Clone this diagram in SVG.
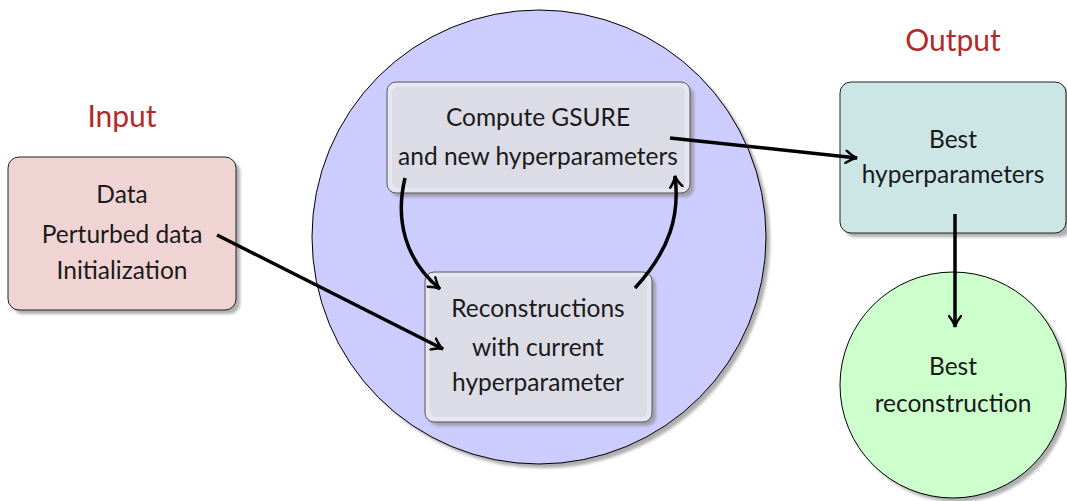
<svg xmlns="http://www.w3.org/2000/svg" width="1067" height="501" viewBox="0 0 1067 501">
<defs>
<style>
text{font-family:Lato,"Open Sans","Liberation Sans",sans-serif;font-size:24.5px;fill:#1a1a1a;text-anchor:middle}
.lbl{fill:#b22a2a;font-size:30px}
.sh{fill:#8c8c8c;opacity:0.7}
.edge{fill:none;stroke:#000;stroke-width:3.5}
</style>
<filter id="blur" x="-10%" y="-10%" width="120%" height="120%"><feGaussianBlur stdDeviation="1.5"/></filter>
<marker id="arr" viewBox="0 0 12 12" refX="10" refY="6" markerWidth="4.2" markerHeight="4.2" orient="auto" markerUnits="strokeWidth">
<path d="M1,1 Q6,5 10,6 Q6,7 1,11" fill="none" stroke="#000" stroke-width="2" stroke-linecap="round"/>
</marker>
</defs>
<rect width="1067" height="501" fill="#fff"/>
<g id="big-circle">
<circle cx="543" cy="241" r="227" class="sh" filter="url(#blur)"/>
<circle cx="539" cy="237" r="227" fill="#ccccff" stroke="#000" stroke-width="1"/>
</g>
<g id="label-input"><text class="lbl" x="122" y="127">Input</text></g>
<g id="label-output"><text class="lbl" x="953" y="51">Output</text></g>
<g id="input">
<rect x="12" y="161" width="228" height="153" rx="11" class="sh" filter="url(#blur)"/>
<rect x="8" y="157" width="228" height="153" rx="11" fill="#f0d4d4" stroke="#222" stroke-width="1"/>
<text x="122" y="203">Data</text>
<text x="122" y="243">Perturbed data</text>
<text x="122" y="279">Initialization</text>
</g>
<g id="compute">
<rect x="391" y="86" width="303" height="111" rx="9" class="sh" filter="url(#blur)"/>
<rect x="387" y="82" width="303" height="111" rx="9" fill="#e6e6f2" stroke="#555" stroke-width="1"/>
<rect x="392" y="87" width="293" height="101" rx="6" fill="#dcdce6"/>
<text x="538" y="126">Compute GSURE</text>
<text x="538" y="165">and new hyperparameters</text>
</g>
<g id="recon">
<rect x="429" y="276" width="227" height="150" rx="9" class="sh" filter="url(#blur)"/>
<rect x="425" y="272" width="227" height="150" rx="9" fill="#e6e6f2" stroke="#555" stroke-width="1"/>
<rect x="430" y="277" width="217" height="140" rx="6" fill="#dcdce6"/>
<text x="538" y="317">Reconstructions</text>
<text x="538" y="356">with current</text>
<text x="538" y="391">hyperparameter</text>
</g>
<g id="best-hyper">
<rect x="844" y="86" width="227" height="151" rx="11" class="sh" filter="url(#blur)"/>
<rect x="840" y="82" width="226" height="151" rx="11" fill="#cce5e5" stroke="#222" stroke-width="1"/>
<text x="953" y="148">Best</text>
<text x="953" y="183">hyperparameters</text>
</g>
<g id="best-recon">
<circle cx="957" cy="389" r="113" class="sh" filter="url(#blur)"/>
<circle cx="953" cy="385" r="113" fill="#ccffcc" stroke="#000" stroke-width="1"/>
<text x="953" y="375">Best</text>
<text x="953" y="412">reconstruction</text>
</g>
<g id="connectors">
<path class="edge" d="M217,235 L443,349" marker-end="url(#arr)"/>
<path class="edge" d="M670,138 L857,158" marker-end="url(#arr)"/>
<path class="edge" d="M405,178 C395,220 405,260 440,289" marker-end="url(#arr)"/>
<path class="edge" d="M635,288 C670,250 680,215 675,176" marker-end="url(#arr)"/>
<path class="edge" d="M955,214 L955,327" marker-end="url(#arr)"/>
</g>
</svg>
